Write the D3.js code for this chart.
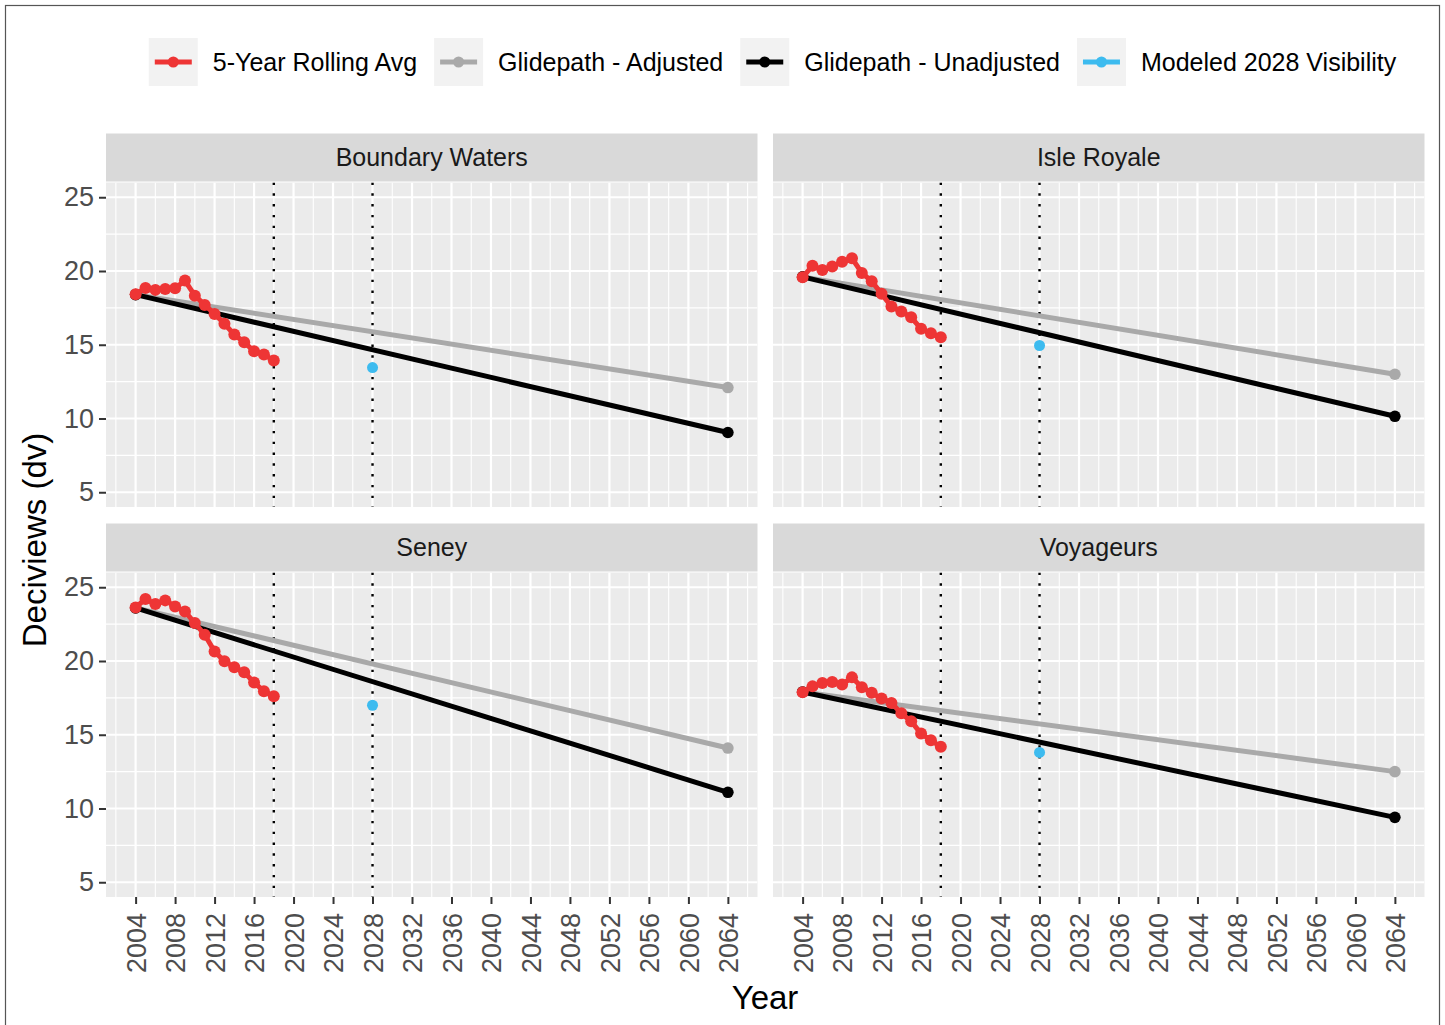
<!DOCTYPE html>
<html>
<head>
<meta charset="utf-8">
<script src="https://cdn.jsdelivr.net/npm/d3@7/dist/d3.min.js"></script>
<style>
  html, body { margin: 0; padding: 0; background: #fff; }
  svg { display: block; font-family: "Liberation Sans", Arial, sans-serif; }
</style>
</head>
<body>
<svg id="chart" width="1445" height="1025"></svg>
<script>
// ---- data ----
const sites = ["Boundary Waters", "Isle Royale", "Seney", "Voyageurs"];

const rollYears = [2004, 2005, 2006, 2007, 2008, 2009, 2010, 2011, 2012, 2013, 2014, 2015, 2016, 2017, 2018];
const rollBoundaryWaters = [18.42, 18.85, 18.72, 18.78, 18.83, 19.35, 18.33, 17.70, 17.09, 16.42, 15.69, 15.17, 14.56, 14.34, 13.93];
const rollIsleRoyale     = [19.57, 20.36, 20.07, 20.31, 20.63, 20.86, 19.87, 19.30, 18.45, 17.59, 17.25, 16.86, 16.08, 15.78, 15.51];
const rollSeney          = [23.63, 24.20, 23.86, 24.11, 23.70, 23.36, 22.57, 21.78, 20.65, 19.98, 19.57, 19.23, 18.55, 17.95, 17.61];
const rollVoyageurs      = [17.88, 18.28, 18.51, 18.58, 18.40, 18.89, 18.22, 17.84, 17.45, 17.16, 16.45, 15.91, 15.08, 14.63, 14.18];

const glideYears = [2004, 2064];
const glideAdjBoundaryWaters   = [18.4, 12.1];
const glideAdjIsleRoyale       = [19.6, 13.0];
const glideAdjSeney            = [23.6, 14.1];
const glideAdjVoyageurs        = [17.9, 12.5];
const glideUnadjBoundaryWaters = [18.4, 9.05];
const glideUnadjIsleRoyale     = [19.6, 10.15];
const glideUnadjSeney          = [23.6, 11.1];
const glideUnadjVoyageurs      = [17.9, 9.4];

const modeledYear = 2028;
const modeledValues = [13.45, 14.95, 17.0, 13.8];

const markerYears = [2018, 2028];

const xBreaks = [2004, 2008, 2012, 2016, 2020, 2024, 2028, 2032, 2036, 2040, 2044, 2048, 2052, 2056, 2060, 2064];
const xMinor  = [2002, 2006, 2010, 2014, 2018, 2022, 2026, 2030, 2034, 2038, 2042, 2046, 2050, 2054, 2058, 2062, 2066];
const yBreaks = [5, 10, 15, 20, 25];
const yMinor  = [7.5, 12.5, 17.5, 22.5];

const seriesNames  = ["5-Year Rolling Avg", "Glidepath - Adjusted", "Glidepath - Unadjusted", "Modeled 2028 Visibility"];
const seriesColors = ["#ee3535", "#a9a9a9", "#000000", "#3dbbef"];

const rollBySite  = [rollBoundaryWaters, rollIsleRoyale, rollSeney, rollVoyageurs];
const adjBySite   = [glideAdjBoundaryWaters, glideAdjIsleRoyale, glideAdjSeney, glideAdjVoyageurs];
const unadjBySite = [glideUnadjBoundaryWaters, glideUnadjIsleRoyale, glideUnadjSeney, glideUnadjVoyageurs];

// ---- layout ----
const svg = d3.select("#chart");
const colX = [106, 773];
const panelW = 651.5;
const stripTop = [133.5, 523.5];
const stripH = 48;
const panelH = 324.5;
const stripFont = 25;
const tickFont = 27;
const legendFont = 25;

// page frame
svg.append("rect").attr("x", 5.5).attr("y", 5.5).attr("width", 1434).attr("height", 1030)
  .attr("fill", "#fff").attr("stroke", "#555").attr("stroke-width", 1.2);

const lineGen = (x, y) => d3.line().x(d => x(d[0])).y(d => y(d[1]));
const zip = (a, b) => a.map((v, i) => [v, b[i]]);

sites.forEach((site, i) => {
  const col = i % 2, row = Math.floor(i / 2);
  const x0 = colX[col];
  const sTop = stripTop[row];
  const pTop = sTop + stripH + 1;
  const x = d3.scaleLinear().domain([2001, 2067]).range([x0, x0 + panelW]);
  const y = d3.scaleLinear().domain([4, 26]).range([pTop + panelH, pTop]);

  // strip
  svg.append("rect").attr("x", x0).attr("y", sTop).attr("width", panelW).attr("height", stripH).attr("fill", "#d9d9d9");
  svg.append("text").attr("x", x0 + panelW / 2).attr("y", sTop + stripH / 2).attr("dy", "0.35em")
    .attr("text-anchor", "middle").attr("font-size", stripFont).attr("fill", "#1a1a1a").text(site);

  const g = svg.append("g");
  const clipId = "clip" + i;
  svg.append("clipPath").attr("id", clipId).append("rect")
    .attr("x", x0).attr("y", pTop).attr("width", panelW).attr("height", panelH);
  g.append("rect").attr("x", x0).attr("y", pTop).attr("width", panelW).attr("height", panelH).attr("fill", "#ebebeb");

  // grid
  const grid = g.append("g").attr("stroke", "#fff").attr("clip-path", `url(#${clipId})`);
  yMinor.forEach(v => grid.append("line").attr("x1", x0).attr("x2", x0 + panelW).attr("y1", y(v)).attr("y2", y(v)).attr("stroke-width", 1.1));
  xMinor.forEach(v => grid.append("line").attr("x1", x(v)).attr("x2", x(v)).attr("y1", pTop).attr("y2", pTop + panelH).attr("stroke-width", 1.1));
  yBreaks.forEach(v => grid.append("line").attr("x1", x0).attr("x2", x0 + panelW).attr("y1", y(v)).attr("y2", y(v)).attr("stroke-width", 2.2));
  xBreaks.forEach(v => grid.append("line").attr("x1", x(v)).attr("x2", x(v)).attr("y1", pTop).attr("y2", pTop + panelH).attr("stroke-width", 2.2));

  const marks = g.append("g").attr("clip-path", `url(#${clipId})`);

  // reference years
  markerYears.forEach(v => marks.append("line").attr("x1", x(v)).attr("x2", x(v))
    .attr("y1", pTop).attr("y2", pTop + panelH)
    .attr("stroke", "#000").attr("stroke-width", 2.4).attr("stroke-dasharray", "2.4 8.4"));

  // glidepaths, rolling average, modeled value
  const drawSeries = (pts, color, r) => {
    marks.append("path").datum(pts).attr("d", lineGen(x, y)).attr("fill", "none")
      .attr("stroke", color).attr("stroke-width", 5);
    marks.selectAll(null).data(pts).join("circle")
      .attr("cx", d => x(d[0])).attr("cy", d => y(d[1])).attr("r", r).attr("fill", color);
  };
  drawSeries(zip(glideYears, adjBySite[i]), seriesColors[1], 5.8);
  drawSeries(zip(glideYears, unadjBySite[i]), seriesColors[2], 5.8);
  drawSeries(zip(rollYears, rollBySite[i]), seriesColors[0], 6);
  marks.append("circle").attr("cx", x(modeledYear)).attr("cy", y(modeledValues[i])).attr("r", 5.5).attr("fill", seriesColors[3]);

  // y axis (left column)
  if (col === 0) {
    const ay = svg.append("g").attr("transform", `translate(${x0},0)`)
      .call(d3.axisLeft(y).tickValues(yBreaks).tickSize(7).tickPadding(5).tickFormat(d3.format("d")));
    ay.select(".domain").remove();
    ay.selectAll(".tick line").attr("stroke", "#333").attr("stroke-width", 2);
    ay.selectAll(".tick text").attr("font-size", tickFont).attr("fill", "#4d4d4d").attr("font-family", "Liberation Sans, Arial, sans-serif");
  }
  // x axis (bottom row)
  if (row === 1) {
    const ax = svg.append("g").attr("transform", `translate(0,${pTop + panelH})`)
      .call(d3.axisBottom(x).tickValues(xBreaks).tickSize(7).tickFormat(d3.format("d")));
    ax.select(".domain").remove();
    ax.selectAll(".tick line").attr("stroke", "#333").attr("stroke-width", 2);
    ax.selectAll(".tick text")
      .attr("font-size", tickFont).attr("fill", "#4d4d4d").attr("font-family", "Liberation Sans, Arial, sans-serif")
      .attr("transform", "rotate(-90)").attr("text-anchor", "end")
      .attr("x", -16).attr("y", 0).attr("dy", "0.36em");
  }
});

// axis titles
svg.append("text").attr("x", 765).attr("y", 1009).attr("text-anchor", "middle")
  .attr("font-size", 33).attr("fill", "#000").text("Year");
svg.append("text").attr("transform", "translate(46,540) rotate(-90)").attr("text-anchor", "middle")
  .attr("font-size", 33).attr("fill", "#000").text("Deciviews (dv)");

// legend
const legend = svg.append("g");
const keyW = 49, keyH = 48, gapText = 15, gapAfter = 17, legendY = 38;
const measure = svg.append("text").attr("font-size", legendFont).attr("visibility", "hidden");
const widths = seriesNames.map(n => { measure.text(n); return measure.node().getComputedTextLength(); });
measure.remove();
const total = d3.sum(widths) + seriesNames.length * (keyW + gapText) + (seriesNames.length - 1) * gapAfter;
let lx = 772.5 - total / 2;
seriesNames.forEach((n, i) => {
  const k = legend.append("g").attr("transform", `translate(${lx},${legendY})`);
  k.append("rect").attr("width", keyW).attr("height", keyH).attr("fill", "#f2f2f2");
  k.append("line").attr("x1", 6).attr("x2", keyW - 6).attr("y1", keyH / 2).attr("y2", keyH / 2)
    .attr("stroke", seriesColors[i]).attr("stroke-width", 5);
  k.append("circle").attr("cx", keyW / 2).attr("cy", keyH / 2).attr("r", 5.5).attr("fill", seriesColors[i]);
  k.append("text").attr("x", keyW + gapText).attr("y", keyH / 2).attr("dy", "0.35em")
    .attr("font-size", legendFont).attr("fill", "#000").text(n);
  lx += keyW + gapText + widths[i] + gapAfter;
});
</script>
</body>
</html>
